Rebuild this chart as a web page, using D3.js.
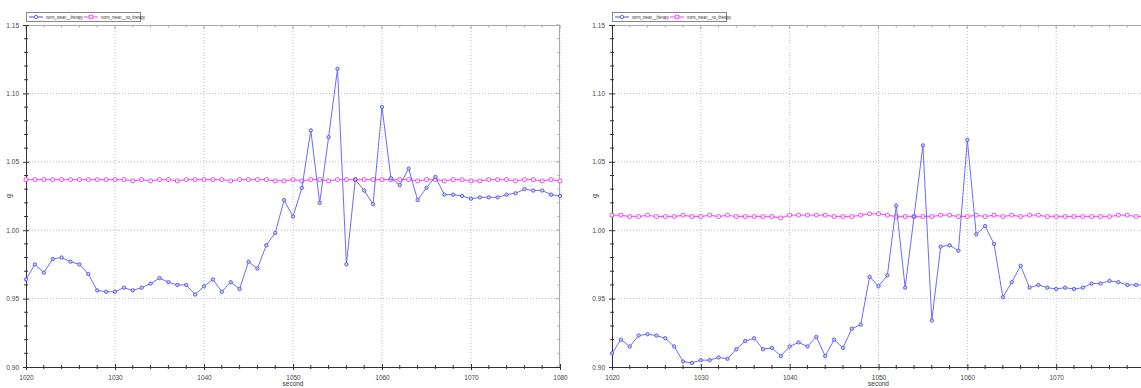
<!DOCTYPE html>
<html>
<head>
<meta charset="utf-8">
<script src="https://cdn.jsdelivr.net/npm/d3@7"></script>
<style>
  html, body { margin: 0; padding: 0; background: #fff; }
  svg { display: block; font-family: "Liberation Sans", Arial, sans-serif; }
</style>
</head>
<body>
<svg id="chart" width="1141" height="388"></svg>
<script>
// Time axis (seconds)
const seconds = [1020,1021,1022,1023,1024,1025,1026,1027,1028,1029,
  1030,1031,1032,1033,1034,1035,1036,1037,1038,1039,
  1040,1041,1042,1043,1044,1045,1046,1047,1048,1049,
  1050,1051,1052,1053,1054,1055,1056,1057,1058,1059,
  1060,1061,1062,1063,1064,1065,1066,1067,1068,1069,
  1070,1071,1072,1073,1074,1075,1076,1077,1078,1079,1080];

const seriesNames = ["norm_mean__therapy", "norm_mean__no_therapy"];

// Left panel
const leftTherapy = [0.964,0.975,0.969,0.979,0.980,0.977,0.975,0.968,0.956,0.955,
  0.955,0.958,0.956,0.958,0.961,0.965,0.962,0.960,0.960,0.953,
  0.959,0.964,0.955,0.962,0.957,0.977,0.972,0.989,0.998,1.022,
  1.010,1.031,1.073,1.020,1.068,1.118,0.975,1.037,1.029,1.019,
  1.090,1.038,1.033,1.045,1.022,1.031,1.039,1.026,1.026,1.025,
  1.023,1.024,1.024,1.024,1.026,1.027,1.030,1.029,1.029,1.026,1.025];
const leftNoTherapy = [1.037,1.037,1.037,1.037,1.037,1.037,1.037,1.037,1.037,1.037,
  1.037,1.037,1.036,1.037,1.036,1.037,1.037,1.036,1.037,1.037,
  1.037,1.037,1.037,1.036,1.037,1.037,1.037,1.037,1.036,1.036,
  1.037,1.036,1.037,1.037,1.036,1.037,1.037,1.037,1.037,1.037,
  1.037,1.037,1.037,1.037,1.036,1.037,1.037,1.036,1.037,1.037,
  1.036,1.036,1.037,1.037,1.037,1.036,1.037,1.037,1.036,1.037,1.036];

// Right panel
const rightTherapy = [0.910,0.920,0.915,0.923,0.924,0.923,0.921,0.915,0.904,0.903,
  0.905,0.905,0.907,0.906,0.913,0.919,0.921,0.913,0.914,0.908,
  0.915,0.918,0.915,0.922,0.908,0.920,0.914,0.928,0.931,0.966,
  0.959,0.967,1.018,0.958,1.010,1.062,0.934,0.988,0.989,0.985,
  1.066,0.997,1.003,0.990,0.951,0.962,0.974,0.958,0.960,0.958,
  0.957,0.958,0.957,0.958,0.961,0.961,0.963,0.962,0.960,0.960,0.960];
const rightNoTherapy = [1.011,1.011,1.010,1.010,1.011,1.010,1.010,1.010,1.011,1.010,
  1.010,1.011,1.010,1.011,1.010,1.010,1.010,1.010,1.010,1.009,
  1.011,1.011,1.011,1.011,1.011,1.010,1.010,1.010,1.011,1.012,
  1.012,1.011,1.010,1.010,1.010,1.010,1.010,1.011,1.011,1.010,
  1.010,1.011,1.010,1.011,1.010,1.011,1.010,1.011,1.011,1.010,
  1.010,1.010,1.010,1.010,1.010,1.010,1.010,1.011,1.011,1.010,1.010];

const xMajorTicks = [1020,1030,1040,1050,1060,1070,1080];
const yMajorTicks = [0.90,0.95,1.00,1.05,1.10,1.15];

const therapyColor = "#6b6bff";
const noTherapyColor = "#ff5cff";

const svg = d3.select("#chart");

function drawPanel(left, right, therapy, noTherapy, xLabels) {
  const top = 25, bottom = 367;
  const x = d3.scaleLinear().domain([1020, 1080]).range([left, right]);
  const y = d3.scaleLinear().domain([0.90, 1.15]).range([bottom, top]);
  const g = svg.append("g");

  // plot background
  g.append("rect").attr("x", left).attr("y", top)
    .attr("width", right - left).attr("height", bottom - top).attr("fill", "#fff");

  // dotted grid
  g.selectAll(".gx").data(xMajorTicks.slice(1)).join("line")
    .attr("x1", d => x(d)).attr("x2", d => x(d)).attr("y1", top).attr("y2", bottom)
    .attr("stroke", "#bdbdbd").attr("stroke-width", 1).attr("stroke-dasharray", "1,2");
  g.selectAll(".gy").data(yMajorTicks.slice(1, -1)).join("line")
    .attr("x1", left).attr("x2", right).attr("y1", d => y(d)).attr("y2", d => y(d))
    .attr("stroke", "#bdbdbd").attr("stroke-width", 1).attr("stroke-dasharray", "1,2");

  // mirrored frame on top and right
  const frame = g.append("g").attr("stroke", "#a8a8a8").attr("fill", "none");
  frame.append("line").attr("x1", left).attr("x2", right).attr("y1", top + 0.5).attr("y2", top + 0.5);
  frame.append("line").attr("x1", right - 0.5).attr("x2", right - 0.5).attr("y1", top).attr("y2", bottom);
  const xMinor = d3.range(1020, 1081, 2);
  const yMinor = d3.range(90, 116).map(v => v / 100);
  frame.selectAll(".tt").data(xMinor).join("line")
    .attr("x1", d => x(d)).attr("x2", d => x(d))
    .attr("y1", top).attr("y2", d => top + (d % 10 === 0 ? 4 : 2.5));
  frame.selectAll(".rt").data(yMinor).join("line")
    .attr("y1", d => y(d)).attr("y2", d => y(d))
    .attr("x1", right).attr("x2", d => right - (Math.round(d * 100) % 5 === 0 ? 4 : 2.5));

  // x axis
  const xAxis = d3.axisBottom(x).tickValues(xMajorTicks)
    .tickFormat(d => xLabels.includes(d) ? d3.format("d")(d) : "")
    .tickSizeInner(3).tickSizeOuter(0).tickPadding(5);
  const xa = g.append("g").attr("transform", `translate(0,${bottom})`).call(xAxis);
  xa.select(".domain").attr("stroke", "#333");
  xa.selectAll(".tick line").attr("stroke", "#333").attr("y1", -3);
  xa.selectAll("text").attr("font-size", 6.5).attr("fill", "#444");
  xa.selectAll(".minor").data(xMinor.filter(d => d % 10 !== 0)).join("line")
    .attr("class", "minor").attr("x1", d => x(d)).attr("x2", d => x(d))
    .attr("y1", -2).attr("y2", 2).attr("stroke", "#333");

  // y axis
  const yAxis = d3.axisLeft(y).tickValues(yMajorTicks).tickFormat(d3.format(".2f"))
    .tickSizeInner(3).tickSizeOuter(0).tickPadding(4);
  const ya = g.append("g").attr("transform", `translate(${left},0)`).call(yAxis);
  ya.select(".domain").attr("stroke", "#333");
  ya.selectAll(".tick line").attr("stroke", "#333").attr("x1", 3);
  ya.selectAll("text").attr("font-size", 6.5).attr("fill", "#444");
  ya.selectAll(".minor").data(yMinor.filter(d => Math.round(d * 100) % 5 !== 0)).join("line")
    .attr("class", "minor").attr("y1", d => y(d)).attr("y2", d => y(d))
    .attr("x1", -2).attr("x2", 2).attr("stroke", "#333");

  // axis titles
  g.append("text").attr("x", (left + right) / 2).attr("y", 386)
    .attr("text-anchor", "middle").attr("font-size", 6.5).attr("fill", "#333").text("second");
  g.append("text").attr("transform", `translate(${left - 15},${(top + bottom) / 2}) rotate(-90)`)
    .attr("text-anchor", "middle").attr("font-size", 7).attr("fill", "#333").text("g");

  // series
  const clipId = "clip" + left;
  svg.append("clipPath").attr("id", clipId).append("rect")
    .attr("x", left - 3).attr("y", top - 3).attr("width", right - left + 6).attr("height", bottom - top + 6);
  const plot = g.append("g").attr("clip-path", `url(#${clipId})`);

  const line = d3.line().x((d, i) => x(seconds[i])).y(d => y(d));

  plot.append("path").datum(noTherapy).attr("d", line)
    .attr("fill", "none").attr("stroke", noTherapyColor).attr("stroke-width", 1.3);
  plot.selectAll(".sq").data(noTherapy).join("rect")
    .attr("x", (d, i) => x(seconds[i]) - 1.8).attr("y", d => y(d) - 1.8)
    .attr("width", 3.6).attr("height", 3.6).attr("rx", 0.8)
    .attr("fill", "#fff").attr("stroke", "#e040e0").attr("stroke-width", 0.9);

  plot.append("path").datum(therapy).attr("d", line)
    .attr("fill", "none").attr("stroke", therapyColor).attr("stroke-width", 1);
  plot.selectAll(".ci").data(therapy).join("circle")
    .attr("cx", (d, i) => x(seconds[i])).attr("cy", d => y(d)).attr("r", 1.7)
    .attr("fill", "#c8c8ff").attr("stroke", "#4848d8").attr("stroke-width", 0.8);

  // legend
  const lg = g.append("g").attr("transform", `translate(${left},12)`);
  lg.append("rect").attr("x", 0.5).attr("y", 0.5).attr("width", 114).attr("height", 9)
    .attr("fill", "#fff").attr("stroke", "#888").attr("stroke-width", 1);
  const items = [
    { name: seriesNames[0], color: therapyColor, mark: "circle", x: 3, w: 37 },
    { name: seriesNames[1], color: noTherapyColor, mark: "square", x: 58, w: 44 }
  ];
  items.forEach(it => {
    const ig = lg.append("g").attr("transform", `translate(${it.x},5)`);
    ig.append("line").attr("x1", 0).attr("x2", 14).attr("stroke", it.color).attr("stroke-width", 1.2);
    if (it.mark === "circle") {
      ig.append("circle").attr("cx", 7).attr("r", 1.7).attr("fill", "#fff").attr("stroke", "#4848d8").attr("stroke-width", 0.8);
    } else {
      ig.append("rect").attr("x", 5.2).attr("y", -1.8).attr("width", 3.6).attr("height", 3.6)
        .attr("fill", "#fff").attr("stroke", "#e040e0").attr("stroke-width", 0.8);
    }
    ig.append("text").attr("x", 17).attr("y", 2).attr("font-size", 5)
      .attr("textLength", it.w).attr("lengthAdjust", "spacingAndGlyphs")
      .attr("fill", "#333").text(it.name);
  });
}

drawPanel(26, 560, leftTherapy, leftNoTherapy, xMajorTicks);
drawPanel(612, 1145, rightTherapy, rightNoTherapy, xMajorTicks.slice(0, -1));
</script>
</body>
</html>
